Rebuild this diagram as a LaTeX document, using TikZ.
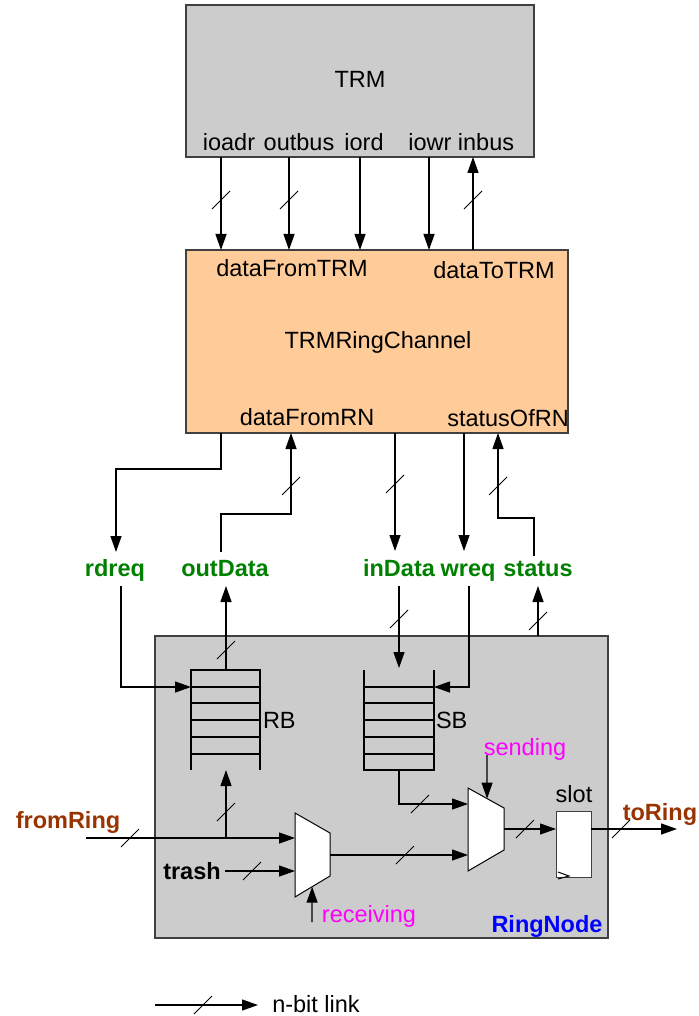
\documentclass[tikz,border=0pt]{standalone}
\usepackage{fontspec}
\setmainfont{Liberation Sans}
\usetikzlibrary{arrows.meta,calc}
\definecolor{boxgray}{HTML}{CCCCCC}
\definecolor{chanorange}{HTML}{FFCC99}
\definecolor{siggreen}{HTML}{008000}
\definecolor{ringbrown}{HTML}{993300}
\definecolor{nodeblue}{HTML}{0000FF}
\definecolor{ctlmagenta}{HTML}{FF00FF}

\begin{document}
\begin{tikzpicture}[x=1pt,y=-1pt,
  every node/.style={inner sep=0pt, outer sep=0pt},
  txt/.style={font=\fontsize{23.5}{27}\selectfont, anchor=base},
  sig/.style={font=\bfseries\fontsize{23.5}{27}\selectfont, anchor=base, text=siggreen},
  ring/.style={sig, text=ringbrown},
  ctl/.style={txt, text=ctlmagenta},
  block/.style={draw=black!75, line width=1.3pt},
  wire/.style={line width=1.3pt},
  link/.style={wire, -{Triangle[length=16pt,width=11pt]}},
  slash/.pic={\draw[line width=1pt] (-9,9) -- (9,-9);}
]
\useasboundingbox (0,0) rectangle (698,1016);

% ---------------- TRM ----------------
\node[block, fill=boxgray, minimum width=348pt, minimum height=152pt] (trm) at (360,81) {};
\node[txt] (trmname) at (360,88) {TRM};
\node[txt] (ioadr)  at (229,151) {ioadr};
\node[txt] (outbus) at (299,151) {outbus};
\node[txt] (iord)   at (364,151) {iord};
\node[txt] (iowr)   at (430,151) {iowr};
\node[txt] (inbus)  at (486,151) {inbus};

% ---------------- TRMRingChannel ----------------
\node[block, fill=chanorange, minimum width=382pt, minimum height=183pt] (chan) at (377,341.5) {};
\node[txt] (dataFromTRM) at (292,276) {dataFromTRM};
\node[txt] (dataToTRM)   at (494,278) {dataToTRM};
\node[txt] (channame)    at (378,348) {TRMRingChannel};
\node[txt] (dataFromRN)  at (307,425) {dataFromRN};
\node[txt] (statusOfRN)  at (508,426) {statusOfRN};

% TRM <-> channel links
\draw[link] (221,0 |- trm.south) -- (221,0 |- chan.north);
\draw[link] (289,0 |- trm.south) -- (289,0 |- chan.north);
\draw[link] (360,0 |- trm.south) -- (360,0 |- chan.north);
\draw[link] (429,0 |- trm.south) -- (429,0 |- chan.north);
\draw[link] (473,0 |- chan.north) -- (473,0 |- trm.south);
\pic at (221,200) {slash};
\pic at (289,200) {slash};
\pic at (473,200) {slash};

% ---------------- interface signals ----------------
\node[sig] (rdreq)   at (115,576) {rdreq};
\node[sig] (outData) at (225,576) {outData};
\node[sig] (inData)  at (399,576) {inData};
\node[sig] (wreq)    at (468,576) {wreq};
\node[sig] (status)  at (538,576) {status};

\draw[link] (221,0 |- chan.south) -- (221,469) -| (116,552);
\draw[link] (221,552) -- (221,514) -| (291,0 |- chan.south);
\pic at (291,486) {slash};
\draw[link] (395,0 |- chan.south) -- (395,551);
\pic at (395,484) {slash};
\draw[link] (464,0 |- chan.south) -- (464,551);
\draw[link] (534,556) -- (534,518) -| (498,0 |- chan.south);
\pic at (498,486) {slash};

% ---------------- RingNode ----------------
\node[block, fill=boxgray, minimum width=453pt, minimum height=302pt] (rn) at (381.5,787) {};
\node[sig, text=nodeblue] (rnname) at (547,932) {RingNode};

% receive buffer RB (open at the bottom)
\draw[wire] (191,770) -- (191,670) -- (260,670) -- (260,770);
\foreach \y in {687,703,720,737,754} \draw[wire] (191,\y) -- (260,\y);
\node[txt, anchor=base west] (rb) at (263,728) {RB};
% send buffer SB (open at the top)
\draw[wire] (364,670) -- (364,770) -- (434,770) -- (434,670);
\foreach \y in {687,703,720,737,754} \draw[wire] (364,\y) -- (434,\y);
\node[txt, anchor=base west] (sb) at (436,728) {SB};

\draw[link] (121,586) -- (121,687) -- (191,687);
\draw[link] (226,670) -- (226,586);
\pic at (226,650) {slash};
\draw[link] (399,586) -- (399,668);
\pic at (399,619) {slash};
\draw[link] (469,586) -- (469,687) -- (434,687);
\draw[link] (538,0 |- rn.north) -- (538,586);
\pic at (538,621) {slash};

% receive multiplexer
\coordinate (m1tl) at (295,813);
\coordinate (m1tr) at (330,833);
\coordinate (m1br) at (330,876);
\coordinate (m1bl) at (295,897);
\draw[line width=1pt, fill=white] (m1tl) -- (m1tr) -- (m1br) -- (m1bl) -- cycle;
% send multiplexer
\coordinate (m2tl) at (468,788);
\coordinate (m2tr) at (504,808);
\coordinate (m2br) at (504,850);
\coordinate (m2bl) at (468,871);
\draw[line width=1pt, fill=white] (m2tl) -- (m2tr) -- (m2br) -- (m2bl) -- cycle;

% slot register
\node[draw=black!75, line width=1pt, fill=white, minimum width=35pt, minimum height=66pt] (slot) at (573.5,844) {};
\draw[line width=1pt] (558,872) -- (569,876) -- (558,879);
\node[txt] (slotname) at (574,802) {slot};

\node[ring] (fromRing) at (68,828) {fromRing};
\node[ring] (toRing)   at (660,820) {toRing};
\node[sig, text=black] (trash) at (192,879) {trash};
\node[ctl] (sending)   at (525,755) {sending};
\node[ctl] (receiving) at (369,922) {receiving};

\draw[link] (86,838) -- (m1tl |- 0,838);
\pic at (130,838) {slash};
\draw[link] (226,838) -- (226,770);
\pic at (226,812) {slash};
\draw[link] (225,871) -- (m1tl |- 0,871);
\pic at (252,871) {slash};
\draw[link] (312,922) -- ($(m1bl)!0.49!(m1br)$);
\draw[link] (m1tr |- 0,855) -- (m2tl |- 0,855);
\pic at (405,855) {slash};
\draw[link] (399,770) -- (399,804) -- (m2tl |- 0,804);
\pic at (420,804) {slash};
\draw[link] (487,755) -- ($(m2tl)!0.53!(m2tr)$);
\draw[link] (m2tr |- 0,829) -- (slot.west |- 0,829);
\pic at (525,829) {slash};
\draw[link] (slot.east |- 0,829) -- (677,829);
\pic at (621,829) {slash};

% legend
\draw[link] (155,1005) -- (258,1005);
\pic at (203,1005) {slash};
\node[txt] (legend) at (316,1012) {n-bit link};
\end{tikzpicture}
\end{document}
